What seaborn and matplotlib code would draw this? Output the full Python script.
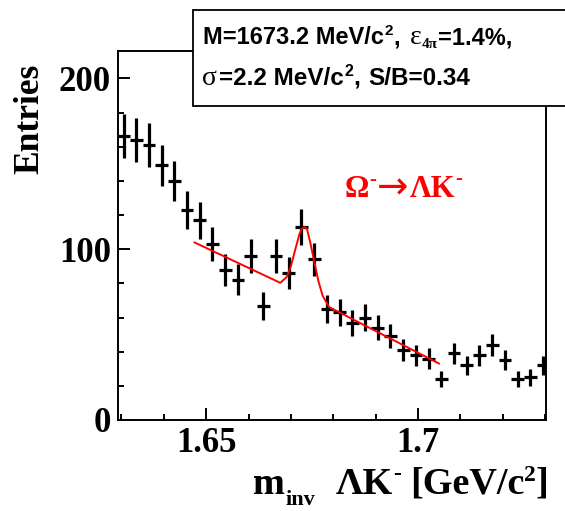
import numpy as np
import pandas as pd
import seaborn as sns
import matplotlib.pyplot as plt
from matplotlib.patches import Rectangle
from matplotlib.ticker import MultipleLocator

# histogram: 3 MeV bins from 1.629 GeV
bin_lo = 1.629
bin_w = 0.003
counts = [166, 164, 161, 149, 140, 123, 117, 103, 88, 82, 96, 67, 96, 86, 113,
          94, 65, 63, 57, 60, 54, 49, 41, 38, 36, 24, 39, 32, 38, 44, 35, 24, 25, 32]

# fit curve
fit_x = [1.6472, 1.6675, 1.6690, 1.6700, 1.6710, 1.6720, 1.6725, 1.6732, 1.6738,
         1.6745, 1.6755, 1.6765, 1.6775, 1.6790, 1.7050]
fit_y = [104.0, 80.3, 83.7, 90.0, 99.5, 108.7, 111.8, 112.9, 111.8,
         104.7, 92.9, 81.2, 72.7, 66.1, 33.0]

W, H = 565, 511
SERIF = 'Liberation Serif'
SANS = 'Liberation Sans'

sns.set_style("ticks", {"axes.edgecolor": "black", "text.color": "black",
                        "xtick.color": "black", "ytick.color": "black"})

centers = bin_lo + bin_w * (np.arange(len(counts)) + 0.5)
df = pd.DataFrame({"m": centers, "n": counts})
fit = pd.DataFrame({"m": fit_x, "f": fit_y})

fig = plt.figure(figsize=(W / 100, H / 100), dpi=100)
ax = fig.add_axes([118 / W, 1 - 420 / H, (546 - 118) / W, (420 - 51) / H])
rend = fig.canvas.get_renderer()


def chain(x0, y0, pieces, color='black', z=3):
    # pieces: (text, size, raise_px, family, weight, gap_after_px)
    x = x0
    for s, size, dy, fam, wt, gap in pieces:
        t = fig.text(x / W, 1 - (y0 - dy) / H, s, ha='left', va='baseline',
                     fontsize=size, family=fam, weight=wt, color=color, zorder=z)
        x += t.get_window_extent(rend).width + gap


ax.errorbar(df["m"], df["n"], xerr=bin_w / 2, yerr=np.sqrt(df["n"]), fmt='none',
            ecolor='black', elinewidth=2.3, capsize=0)
sns.lineplot(data=fit, x="m", y="f", color='red', lw=1.4, sort=False, ax=ax)

ax.set_xlim(1.6292, 1.7302)
ax.set_ylim(0, 216)
ax.set_xlabel("")
ax.set_ylabel("")
ax.set_xticks([1.65, 1.70])
ax.set_xticklabels(["1.65", "1.7"])
ax.set_yticks([0, 100, 200])
ax.xaxis.set_minor_locator(MultipleLocator(0.01))
ax.yaxis.set_minor_locator(MultipleLocator(20))
ax.tick_params(which='both', direction='in', top=False, right=False, width=1.4,
               color='black', labelcolor='black')
ax.tick_params(which='major', length=8.5, pad=5)
ax.tick_params(which='minor', length=4.3)
for lab in ax.get_xticklabels() + ax.get_yticklabels():
    lab.set_fontfamily(SERIF)
    lab.set_fontweight('bold')
    lab.set_fontsize(25)
for s in ax.spines.values():
    s.set_visible(True)
    s.set_linewidth(1.4)
    s.set_color('black')

fig.text(30 / W, 1 - 119 / H, "Entries", rotation=90, ha='center', va='center',
         family=SERIF, weight='bold', fontsize=25.5, color='black')

# x axis title
chain(253, 494, [("m", 27.5, 0, SERIF, 'bold', 1),
                 ("inv", 16, -11, SERIF, 'bold', 20),
                 ("ΛK", 27.5, 0, SERIF, 'bold', 0),
                 ("-", 17, 14, SERIF, 'bold', 9),
                 ("[GeV/c", 27.5, 0, SERIF, 'bold', 0),
                 ("2", 17, 13, SERIF, 'bold', 0),
                 ("]", 27.5, 0, SERIF, 'bold', 0)])

# decay label
chain(345, 197, [("Ω", 22, 0, SERIF, 'bold', 0),
                 ("-", 15, 12, SERIF, 'bold', 1),
                 ("→", 27, -1, 'DejaVu Sans', 'normal', 1),
                 ("ΛK", 22, 0, SERIF, 'bold', 0),
                 ("-", 15, 13, SERIF, 'bold', 0)], color='red')

# parameter box
box = Rectangle((193 / W, 1 - 106 / H), 1.0, 96 / H, transform=fig.transFigure,
                facecolor='white', edgecolor='black', lw=1.3, zorder=2)
fig.patches.append(box)
chain(203, 44, [("M=1673.2 MeV/c", 17, 0, SANS, 'bold', 1),
                ("2", 11, 9, SANS, 'bold', 0),
                (",", 17, 0, SANS, 'bold', 10),
                ("ε", 20, 0, SERIF, 'normal', 0),
                ("4π", 11, -4, SERIF, 'bold', 0),
                ("=1.4%,", 17, 0, SANS, 'bold', 0)])
chain(202, 85, [("σ", 20, 0, SERIF, 'normal', 2),
                ("=2.2 MeV/c", 17.5, 0, SANS, 'bold', 1),
                ("2", 11.5, 9, SANS, 'bold', 0),
                (",", 17.5, 0, SANS, 'bold', 8),
                ("S/B=0.34", 17.5, 0, SANS, 'bold', 0)])

fig.savefig("out.png", dpi=100)
